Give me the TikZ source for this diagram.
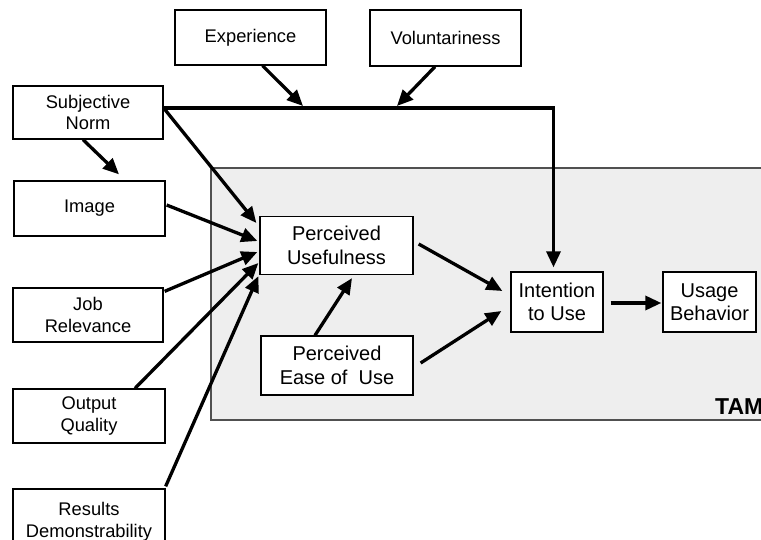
\documentclass[tikz,border=0pt]{standalone}
\usepackage{fontspec}
\setmainfont{Liberation Sans}
\usetikzlibrary{arrows.meta,calc}
\definecolor{tamfill}{HTML}{EEEEEE}
\definecolor{tamedge}{HTML}{505050}

\begin{document}
\begin{tikzpicture}[x=1pt,y=-1pt,
  box/.style={draw=black, line width=1.3pt, fill=white, align=center,
    inner sep=0pt, font=\fontsize{18.3}{21.5}\selectfont},
  corebox/.style={box, font=\fontsize{20}{23.5}\selectfont},
  link/.style={line width=3.3pt, -{Triangle[length=16pt,width=14pt]}},
]
\useasboundingbox (0,0) rectangle (761,540);
\clip (0,0) rectangle (761,540);
\fill[white] (0,0) rectangle (761,540);

% TAM panel (runs off the right edge)
\node[draw=tamedge, fill=tamfill, line width=1.5pt, inner sep=0pt,
      minimum width=669pt, minimum height=252pt] (tam) at (545.5,294) {};
\node[anchor=base west, inner sep=0pt, font=\fontsize{23}{26}\bfseries] (tamlabel) at (715,414) {TAM};

% moderators
\node[box, minimum width=151pt, minimum height=55pt] (exp) at (250.5,37.5) {Experience};
\node[box, minimum width=151pt, minimum height=56pt] (vol) at (445.5,38) {Voluntariness};

% external variables
\node[box, minimum width=150pt, minimum height=53pt] (sn)  at (88,112.5) {Subjective\\Norm};
\node[box, minimum width=151pt, minimum height=55pt] (img) at (89.5,208.5) {Image};
\node[box, minimum width=150pt, minimum height=54pt] (job) at (88,315) {Job\\Relevance};
\node[box, minimum width=152pt, minimum height=54pt] (out) at (89,416) {Output\\Quality};
\node[box, minimum width=152pt, minimum height=66pt] (res) at (89,522) {Results\\Demonstrability};

% TAM core
\node[corebox, minimum width=153pt, minimum height=58pt] (pu)  at (336.5,245.5) {Perceived\\Usefulness};
\node[corebox, minimum width=152pt, minimum height=59pt] (peu) at (337,365.5) {Perceived\\Ease of\ \ Use};
\node[corebox, minimum width=92pt, minimum height=60pt]  (int) at (557,302) {Intention\\to Use};
\node[corebox, minimum width=93pt, minimum height=60pt]  (use) at (709.5,302) {Usage\\Behavior};

% moderating arrows pointing at the subjective norm line
\coordinate (expTip) at (303,106);
\coordinate (volTip) at (397,106);
\draw[link] ($(exp.south)+(12,0)$) -- (expTip);
\draw[link] ($(vol.south)+(-10.5,0)$) -- (volTip);

% subjective norm -> intention
\draw[link] ($(sn.east)+(0,-4.5)$) -| ($(int.north)+(-3.5,-4)$);

% determinants of perceived usefulness
\draw[link] ($(sn.south)+(-5,0)$) -- ($(img.north)+(29.5,-6)$);
\draw[link] ($(sn.east)+(0,-4.5)$) -- ($(pu.west)+(-3,-22.5)$);
\draw[link] ($(img.east)+(1,-3.5)$) -- ($(pu.west)+(-2,-4.5)$);
\draw[link] ($(job.north east)+(1,4)$) -- ($(pu.west)+(-2,6.5)$);
\draw[link] ($(out.north)+(46,0)$) -- ($(pu.west)+(-1,17.5)$);
\draw[link] ($(res.north east)+(0,-2)$) -- ($(pu.south west)+(-1,1)$);

% TAM relations
\draw[link] ($(peu.north)+(-22,0)$) -- ($(pu.south)+(15.5,3)$);
\draw[link] ($(pu.east)+(5,-1.5)$) -- ($(int.west)+(-8,-11)$);
\draw[link] ($(peu.east)+(7,-2.5)$) -- ($(int.west)+(-9,9)$);
\draw[link] ($(int.east)+(7,1)$) -- ($(use.west)+(-1,1)$);
\end{tikzpicture}
\end{document}
